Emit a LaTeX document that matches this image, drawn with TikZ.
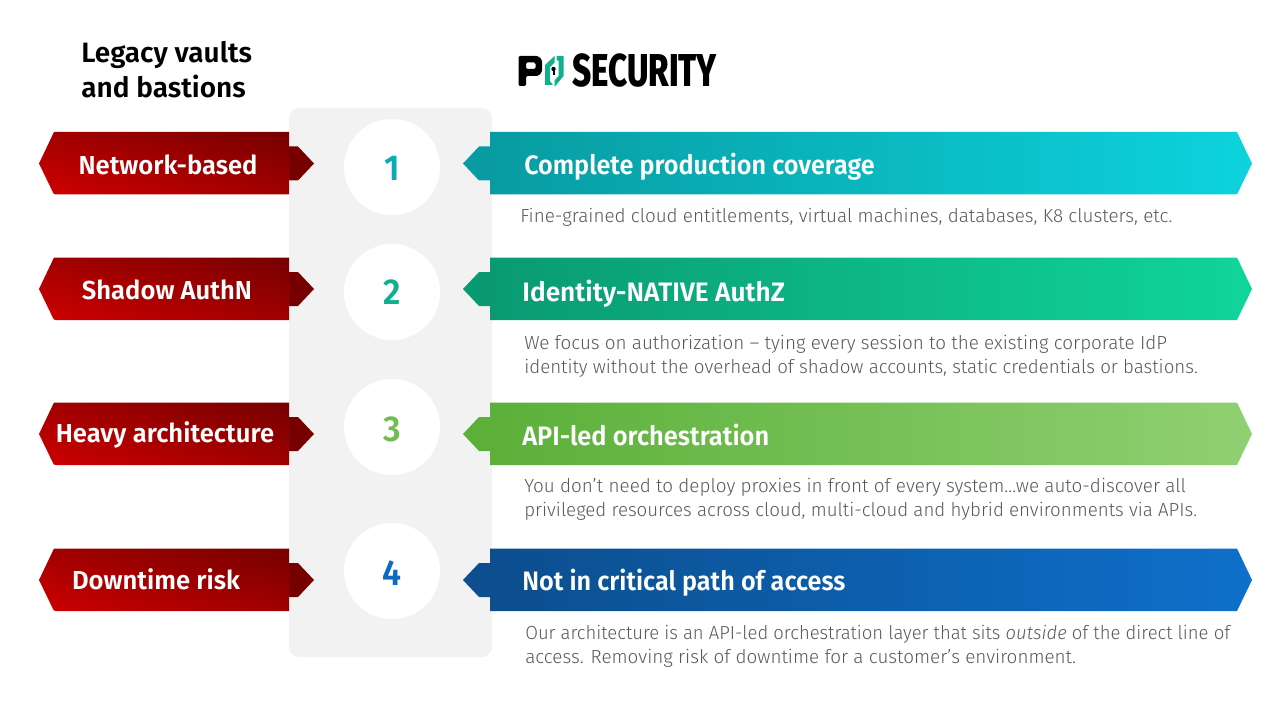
\documentclass[tikz,border=0pt]{standalone}
\usepackage{fontspec}
\setmainfont{Fira Sans}
\newfontfamily\lightA{Fira Sans Light}[FakeStretch=0.996]
\newfontfamily\lightB{Fira Sans Light}[FakeStretch=0.988]
\newfontfamily\lightC{Fira Sans Light}[ItalicFont={Fira Sans Light Italic},FakeStretch=0.975]
\newfontfamily\semif{Fira Sans SemiBold}[FakeStretch=0.945]
\newfontfamily\semiw{Fira Sans SemiBold}[FakeStretch=0.986]
\newfontfamily\semim{Fira Sans SemiBold}[FakeStretch=0.953]
\newfontfamily\lsemif{Fira Sans SemiBold}[FakeStretch=0.985]
\newfontfamily\titlef{Fira Sans SemiBold}
\newfontfamily\heavyf{Fira Sans ExtraBold}[FakeStretch=0.72]
\definecolor{redA}{HTML}{CC0000}
\definecolor{redB}{HTML}{760000}
\definecolor{tealA}{HTML}{089CA2}
\definecolor{tealB}{HTML}{0DD3DD}
\definecolor{grnA}{HTML}{0A9A72}
\definecolor{grnB}{HTML}{10D59A}
\definecolor{limA}{HTML}{5CB03A}
\definecolor{limB}{HTML}{90D072}
\definecolor{bluA}{HTML}{0C4E8E}
\definecolor{bluB}{HTML}{0E70CB}
\definecolor{bodyc}{HTML}{595959}
\definecolor{panelc}{HTML}{F2F2F2}
\definecolor{logoteal}{HTML}{10B08C}
\tikzset{
  x=0.75pt,y=-0.75pt,
  hd/.style={font=\semif\fontsize{20}{24}\selectfont,text=white,inner sep=0pt,anchor=mid west},
  lefthd/.style={font=\lsemif\fontsize{19.5}{24}\selectfont,text=white,inner sep=0pt,anchor=mid},
  bodyt/.style={font=\lightA\fontsize{14.2}{18}\selectfont,text=bodyc,inner sep=0pt,anchor=north west,align=left},
  numc/.style={circle,fill=white,minimum size=72pt,inner sep=0pt},
  numt/.style={inner sep=0pt,font=\semif\fontsize{27}{30}\selectfont},
}
\newcommand{\leftarrowrow}[2]{%
  \fill[redB] (289,#1-17) -- (298,#1-17) -- (314,#1) -- (298,#1+17) -- (289,#1+17) -- cycle;
  \begin{scope}
  \clip (39,#1) -- (54,#1-31.5) -- (289,#1-31.5) -- (289,#1+31) -- (54,#1+31) -- cycle;
  \shade[transform canvas={yslant=-0.264},top color=redB,bottom color=redA!#2!black] (30,#1-107.8) rectangle (300,#1+16.2);
  \end{scope}
}
\newcommand{\rightarrowrow}[3]{%
  \fill[#2] (490,#1-17) -- (479,#1-17) -- (463,#1) -- (479,#1+17) -- (490,#1+17) -- cycle;
  \shade[left color=#2,right color=#3] (490,#1-31.5) -- (1237,#1-31.5) -- (1252,#1) -- (1237,#1+31) -- (490,#1+31) -- cycle;
}
\begin{document}
\begin{tikzpicture}
\useasboundingbox (0,0) rectangle (1280,720);
\fill[panelc,rounded corners=7.5pt] (289,108) rectangle (492,657);
\leftarrowrow{163.5}{100}\leftarrowrow{289}{99.6}\leftarrowrow{434}{99.2}\leftarrowrow{580}{98.8}
\rightarrowrow{163.5}{tealA}{tealB}
\rightarrowrow{289}{grnA}{grnB}
\rightarrowrow{434}{limA}{limB}
\rightarrowrow{580}{bluA}{bluB}
\node[numc] (c1) at (392,167) {};
\node[numc] (c2) at (392,292) {};
\node[numc] (c3) at (392,427) {};
\node[numc] (c4) at (392,571) {};
\node[numt,text=tealA!70!tealB] (n1) at (392,168) {1};
\node[numt,text=logoteal] (n2) at (392,292) {2};
\node[numt,text=limA!60!limB] (n3) at (392,429) {3};
\node[numt,text=bluB!80!bluA] (n4) at (392,573) {4};
\node[font=\titlef\fontsize{21}{26}\selectfont,inner sep=0pt,anchor=north west,align=left] (title) at (81,41) {Legacy vaults\\and bastions};
% logo
\fill[black,even odd rule,rounded corners=1pt] (518.5,56) -- (538,56) -- (542,60) -- (542,72) -- (538,76) -- (526,76) -- (526,86) -- (518.5,86) -- cycle (526,62.5) rectangle (535.5,69);
\fill[logoteal] (554.5,56) -- (545,65) -- (545,85) -- (553,85) -- (550,81) -- (550,67) -- (554.5,62.5) -- cycle;
\fill[logoteal] (556.5,56) -- (563.5,56) -- (563.5,76) -- (554.5,87) -- (554.5,80.5) -- (558.5,76) -- (558.5,61) -- (556.5,60) -- cycle;
\fill[black] (553.5,69) circle[radius=2.2];
\fill[black] (552.5,69) rectangle (554.5,75.5);
\node[font=\heavyf\fontsize{34.5}{35}\selectfont,inner sep=0pt,anchor=base west] (logo) at (572,87) {SECURITY};
% left labels
\node[lefthd] (l1) at (168,171) {Network-based};
\node[lefthd] (l2) at (167,296) {Shadow AuthN};
\node[lefthd] (l3) at (165,439) {Heavy architecture};
\node[lefthd] (l4) at (156,586) {Downtime risk};
% right
\node[hd] (r1) at (524,171) {Complete production coverage};
\node[hd,font=\semiw\fontsize{20}{24}\selectfont] (r2) at (522,297.5) {Identity-NATIVE AuthZ};
\node[hd,font=\semim\fontsize{20}{24}\selectfont] (r3) at (522,442) {API-led orchestration};
\node[hd] (r4) at (522,587) {Not in critical path of access};
\node[bodyt] (b1) at (520,208) {Fine-grained cloud entitlements, virtual machines, databases, K8 clusters, etc.};
\node[bodyt] (b2) at (524,335) {We focus on authorization – tying every session to the existing corporate IdP\\\lightB identity without the overhead of shadow accounts, static credentials or bastions.};
\node[bodyt] (b3) at (524,478) {You don’t need to deploy proxies in front of every system…we auto-discover all\\\lightB privileged resources across cloud, multi-cloud and hybrid environments via APIs.};
\node[bodyt,font=\lightC\fontsize{14.2}{18}\selectfont] (b4) at (525,625) {Our architecture is an API-led orchestration layer that sits \textit{outside} of the direct line of\\\lightA access. Removing risk of downtime for a customer’s environment.};
\end{tikzpicture}
\end{document}
